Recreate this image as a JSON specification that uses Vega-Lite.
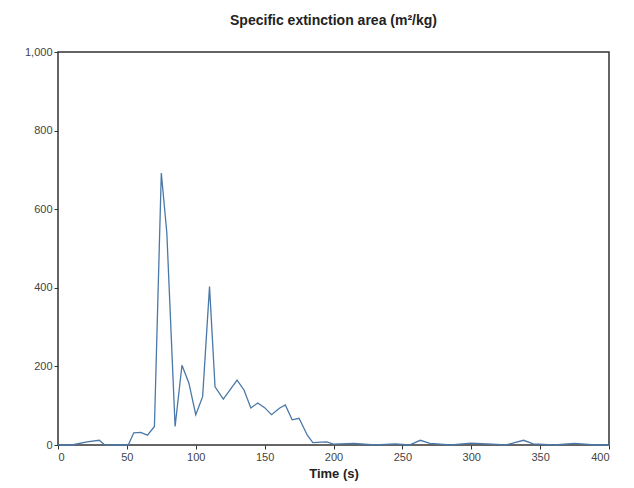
{
"$schema":"https://vega.github.io/schema/vega-lite/v6.json",
"width":551,"height":393,"autosize":"none",
"padding":{"left":58,"top":52,"right":25,"bottom":43},
"title":{"text":"Specific extinction area (m²/kg)","font":"Liberation Sans","fontSize":14,"fontWeight":"bold","color":"#222","offset":18},
"config":{"view":{"stroke":"#333","strokeWidth":1.5}},
"data":{"values":[
{"t":0,"v":0},{"t":10,"v":0},{"t":21,"v":8},{"t":30,"v":12},{"t":34,"v":0},{"t":51,"v":0},{"t":55,"v":31},{"t":60,"v":32},{"t":65,"v":25},{"t":70,"v":47},{"t":75,"v":692},{"t":79,"v":540},{"t":85,"v":47},{"t":90,"v":203},{"t":95,"v":158},{"t":100,"v":77},{"t":105,"v":123},{"t":110,"v":403},{"t":114,"v":148},{"t":120,"v":117},{"t":130,"v":165},{"t":135,"v":140},{"t":140,"v":94},{"t":145,"v":107},{"t":150,"v":95},{"t":155,"v":77},{"t":161,"v":94},{"t":165,"v":102},{"t":170,"v":64},{"t":175,"v":68},{"t":181,"v":25},{"t":185,"v":6},{"t":195,"v":8},{"t":200,"v":2},{"t":215,"v":4},{"t":230,"v":0},{"t":245,"v":3},{"t":255,"v":0},{"t":263,"v":12},{"t":270,"v":4},{"t":285,"v":0},{"t":300,"v":5},{"t":315,"v":2},{"t":325,"v":0},{"t":338,"v":12},{"t":345,"v":3},{"t":360,"v":0},{"t":375,"v":4},{"t":390,"v":0},{"t":400,"v":0}
]},
"mark":{"type":"line","color":"#4a78a8","strokeWidth":1.3},
"encoding":{
"x":{"field":"t","type":"quantitative","scale":{"domain":[0,400],"nice":false},"axis":{"title":"Time (s)","titleFont":"Liberation Sans","titleFontSize":13,"titleFontWeight":"bold","titleColor":"#222","titlePadding":5,"values":[0,50,100,150,200,250,300,350,400],"grid":false,"labelFont":"Liberation Sans","labelFontSize":11,"labelColor":"#444","domain":false,"tickColor":"#333","tickSize":4}},
"y":{"field":"v","type":"quantitative","scale":{"domain":[0,1000],"nice":false},"axis":{"title":null,"values":[0,200,400,600,800,1000],"grid":false,"labelFont":"Liberation Sans","labelFontSize":11,"labelColor":"#444","domain":false,"tickColor":"#333","tickSize":4}}
}
}
